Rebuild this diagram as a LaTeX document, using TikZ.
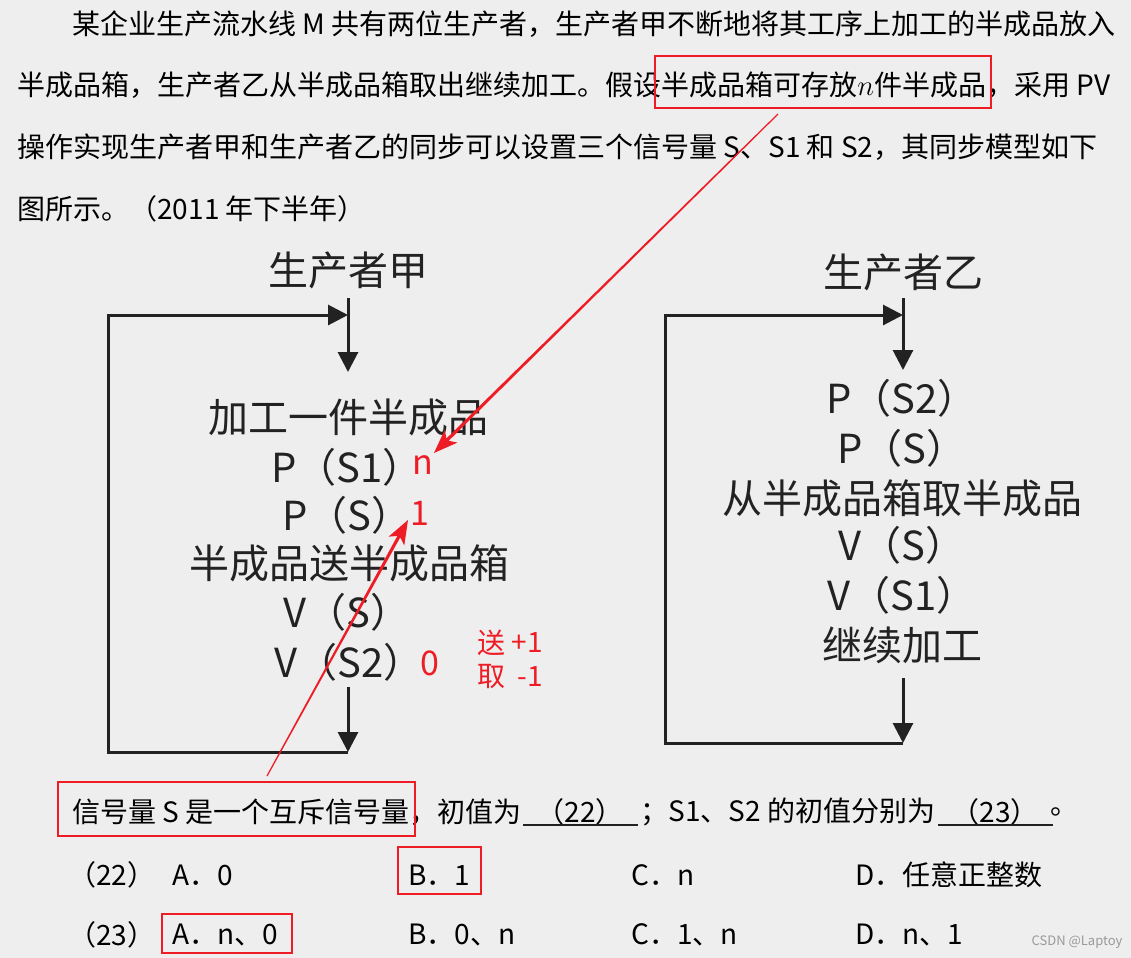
\documentclass[tikz,border=0pt]{standalone}
\usepackage{fontspec}
\setmainfont{Noto Sans CJK SC}
\usetikzlibrary{arrows.meta,calc,positioning}
\definecolor{paper}{HTML}{EEEEEE}
\definecolor{redmark}{HTML}{EE1C25}
\definecolor{ink}{HTML}{222222}
\tikzset{
  >=Triangle
}
% closing paren without its blank right half
\newcommand\rp{\makebox[0.5em][l]{）}}
% red arrow that gets wider towards its head
\newcommand\taperto[2]{%
  \coordinate (neck) at ($(#2)!12pt!(#1)$);
  \coordinate (notch) at ($(#2)!9.5pt!(#1)$);
  \fill[redmark] ($(#1)!0.3pt!90:(#2)$) -- ($(notch)!0.8pt!90:(#2)$) -- ($(neck)!4.5pt!90:(#2)$) -- (#2)
    -- ($(neck)!4.5pt!-90:(#2)$) -- ($(notch)!0.8pt!-90:(#2)$) -- ($(#1)!0.3pt!-90:(#2)$) -- cycle;}

\begin{document}
\begin{tikzpicture}[x=0.5pt,y=-0.5pt,
        txt/.style={inner sep=0pt,anchor=west,font=\fontsize{14pt}{14pt}\selectfont},
        flow/.style={inner sep=0pt,font=\fontsize{20pt}{20pt}\selectfont,text=ink},
        note/.style={inner sep=0pt,text=redmark,font=\fontsize{17pt}{17pt}\selectfont},
        small/.style={note,font=\fontsize{14pt}{14pt}\selectfont},
        loopline/.style={draw=ink,line width=1.5pt},
        tip/.style={-{Triangle[length=10pt,width=10pt]}},
        redbox/.style={draw=redmark,line width=1pt}
      ]
      \useasboundingbox (0,0) rectangle (1131,958);
      \fill[paper] (0,0) rectangle (1131,958);
      % question text
      \node (L1) [txt] at (72,24) {某企业生产流水线 M 共有两位生产者，生产者甲不断地将其工序上加工的半成品放入};
      \node (L2) [txt] at (17,85) {半成品箱，生产者乙从半成品箱取出继续加工。假设半成品箱可存放$n$件半成品，采用 PV};
      \node (L3) [txt] at (17,147) {操作实现生产者甲和生产者乙的同步可以设置三个信号量 S、S1 和 S2，其同步模型如下};
      \node (L4) [txt] at (17,209) {图所示。（2011 年下半年）};
      % producer A
      \node (JIA) [flow] at (348,270) {生产者甲};
      \node (JA1) [flow] at (348,417) {加工一件半成品};
      \node (JA2) [flow] at (337,467) {P（S1\rp};
      \node (JA3) [flow] at (337,515) {P（S\rp};
      \node (JA4) [flow] at (349,563) {半成品送半成品箱};
      \node (JA5) [flow] at (337,612) {V（S\rp};
      \node (JA6) [flow] at (339,662) {V（S2\rp};
      \coordinate (JIN) at (348,298);
      \coordinate (JDOWN) at (348,372);
      \coordinate (JBACK) at (348,315);
      \coordinate (JOUT) at (348,687);
      \coordinate (JEND) at (348,752);
      \draw[loopline,tip] (JIN) -- (JDOWN);
      \draw[loopline,tip] (JOUT) -- (JEND);
      \draw[loopline,tip] (JEND) -- (108,752) -- (108,315) -- (JBACK);
      % producer B
      \node (YI) [flow] at (903,272) {生产者乙};
      \node (YI1) [flow] at (892,398) {P（S2\rp};
      \node (YI2) [flow] at (892,448) {P（S\rp};
      \node (YI3) [flow] at (902,498) {从半成品箱取半成品};
      \node (YI4) [flow] at (892,545) {V（S\rp};
      \node (YI5) [flow] at (892,595) {V（S1\rp};
      \node (YI6) [flow] at (902,645) {继续加工};
      \coordinate (YIN) at (903,298);
      \coordinate (YDOWN) at (903,370);
      \coordinate (YBACK) at (903,315);
      \coordinate (YOUT) at (903,678);
      \coordinate (YEND) at (903,743);
      \draw[loopline,tip] (YIN) -- (YDOWN);
      \draw[loopline,tip] (YOUT) -- (YEND);
      \draw[loopline,tip] (YEND) -- (665,743) -- (665,315) -- (YBACK);
      % red notes
      \node (NS1) [note] at (423,465) {n};
      \node (NS) [note] at (420,513) {1};
      \node (NS2) [note] at (430,663) {0};
      \node (ADD) [small,anchor=west] at (477,643) {送};
      \node (ADDV) [small,anchor=east] at (543,643) {+1};
      \node (SUB) [small,anchor=west] at (477,677) {取};
      \node (SUBV) [small,anchor=east] at (543,677) {-1};
      % blanks line
      \node (Q1) [txt] at (72,812) {信号量 S 是一个互斥信号量，初值为};
      \node (B22) [txt,anchor=center] at (580,812) {（22）};
      \node (Q2) [txt] at (640,812) {；S1、S2 的初值分别为};
      \node (B23) [txt,anchor=center] at (995,812) {（23）};
      \node (Q3) [txt] at (1050,812) {。};
      \draw[ink,line width=0.8pt] (523,825) -- (638,825);
      \draw[ink,line width=0.8pt] (938,825) -- (1053,825);
      % choices
      \node (C22) [txt] at (68,875) {（22）};
      \node (C22A) [txt] at (172,875) {A．0};
      \node (C22B) [txt] at (408,875) {B．1};
      \node (C22C) [txt] at (631,875) {C．n};
      \node (C22D) [txt] at (855,875) {D．任意正整数};
      \node (C23) [txt] at (68,935) {（23）};
      \node (C23A) [txt] at (172,935) {A．n、0};
      \node (C23B) [txt] at (408,935) {B．0、n};
      \node (C23C) [txt] at (631,935) {C．1、n};
      \node (C23D) [txt] at (855,935) {D．n、1};
      \node (WM) [inner sep=0pt,text=black!40,font=\fontsize{6.5pt}{6.5pt}\selectfont] at (1077,942) {CSDN @Laptoy};
      % red marks
      \draw[redbox] (655,56) rectangle (991,108);
      \draw[redbox] (58,782) rectangle (415,836);
      \draw[redbox] (398,847) rectangle (481,894);
      \draw[redbox] (162,914) rectangle (292,953);
      \coordinate (NTAIL) at (778,114);
      \coordinate (NTIP) at (434,453);
      \coordinate (STAIL) at (267,776);
      \coordinate (STIP) at (408,520);
      \taperto{NTAIL}{NTIP}
      \taperto{STAIL}{STIP}
    \end{tikzpicture}
\end{document}
